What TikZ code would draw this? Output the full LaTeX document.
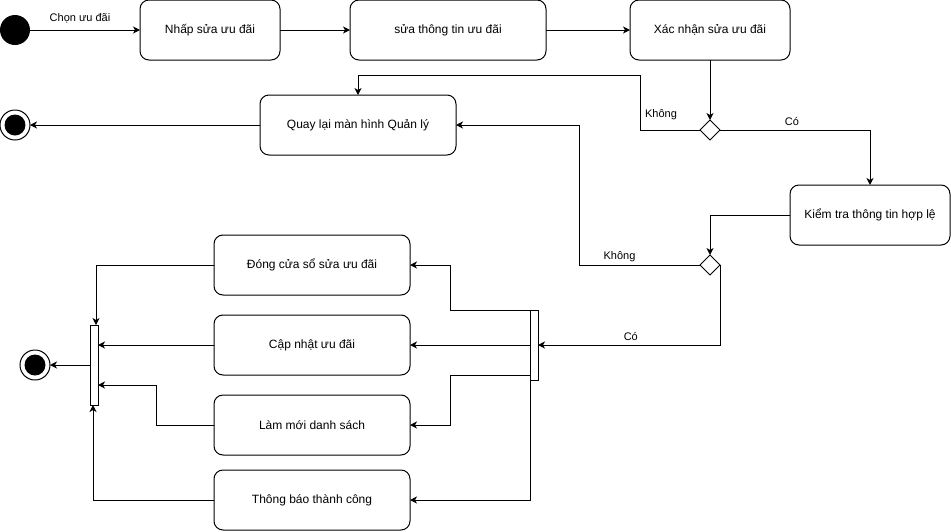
\documentclass[tikz,border=0pt]{standalone}
\usepackage{fontspec}
\setmainfont{Liberation Sans}
\usetikzlibrary{shapes.geometric,arrows.meta,calc}
\begin{document}
\begin{tikzpicture}[x=1pt,y=-1pt,
  every path/.style={line width=1pt},
  act/.style={draw,rounded corners=9pt,minimum height=60pt,inner sep=0pt,outer sep=0pt,font=\fontsize{12}{14}\selectfont},
  dec/.style={draw,diamond,aspect=1,minimum width=20pt,minimum height=20pt,inner sep=0pt,outer sep=0pt,fill=white},
  bar/.style={draw,fill=white,inner sep=0pt,outer sep=0pt,minimum width=8pt},
  lbl/.style={font=\fontsize{11}{13}\selectfont,inner sep=1pt},
  arr/.style={-{Stealth[length=7pt,width=7pt,inset=2pt]}},
  endst/.style={circle,draw,minimum size=30pt,inner sep=0pt,outer sep=0pt,fill=white}]
\useasboundingbox (0,0) rectangle (951,531);
% nodes
\node[circle,fill,minimum size=30pt,inner sep=0pt,outer sep=0pt] (start) at (15,30) {};
\node[act,minimum width=140pt] (b1) at (210,30) {Nhấp sửa ưu đãi};
\node[act,minimum width=196pt] (b2) at (448,30) {sửa thông tin ưu đãi};
\node[act,minimum width=160pt] (b3) at (710,30) {Xác nhận sửa ưu đãi};
\node[dec] (d1) at (710,130) {};
\node[act,minimum width=196pt] (b4) at (358,125) {Quay lại màn hình Quản lý};
\node[endst] (end1) at (15,125) {};
\fill (end1.center) circle[radius=10.5pt];
\node[act,minimum width=160pt] (b5) at (870,215) {Kiểm tra thông tin hợp lệ};
\node[dec] (d2) at (710,265) {};
\node[bar,minimum height=70pt] (fork) at (534,345) {};
\node[act,minimum width=196pt] (b6) at (312,265) {Đóng cửa sổ sửa ưu đãi};
\node[act,minimum width=196pt] (b7) at (312,345) {Cập nhật ưu đãi};
\node[act,minimum width=196pt] (b8) at (312,425) {Làm mới danh sách};
\node[act,minimum width=196pt] (b9) at (312,500) {Thông báo thành công};
\node[bar,minimum height=80pt] (join) at (94,365) {};
\node[endst] (end2) at (35,365) {};
\fill (end2.center) circle[radius=10.5pt];
% connectors
\draw[arr] (start) -- node[lbl,above=5pt,xshift=-5pt] {Chọn ưu đãi} (b1);
\draw[arr] (b1) -- (b2);
\draw[arr] (b2) -- (b3);
\draw[arr] (b3) -- (d1);
\draw[arr] (d1.west) -- node[lbl,above=9pt,xshift=-9pt] {Không} ++(-60,0) |- ($(b4.north)+(0,-20)$) -- (b4.north);
\draw[arr] (d1.east) -| node[lbl,pos=0.24,above=3pt] {Có} (b5.north);
\draw[arr] (b4) -- (end1);
\draw[arr] (b5.west) -| (d2.north);
\draw[arr] (d2.west) -- node[lbl,above=2pt,xshift=-20pt] {Không} ++(-121,0) |- (b4.east);
\draw[arr] (d2.east) |- node[lbl,pos=0.745,above=3pt] {Có} (fork.east);
\draw[arr] (fork.north west) -- ++(-80,0) |- (b6.east);
\draw[arr] (fork.west) -- (b7.east);
\draw[arr] ([yshift=5pt]fork.south west) -- ++(-80,0) |- (b8.east);
\draw[arr] (fork.south west) |- (b9.east);
\draw[arr] (b6.west) -| ([xshift=2pt]join.north);
\draw[arr] (b7.west) -- (b7.west -| join.east);
\draw[arr] (b8.west) -- ++(-58,0) |- ([yshift=-20pt]join.east);
\draw[arr] (b9.west) -| ([xshift=-1pt]join.south);
\draw[arr] (join.west) -- (end2);
\end{tikzpicture}
\end{document}
